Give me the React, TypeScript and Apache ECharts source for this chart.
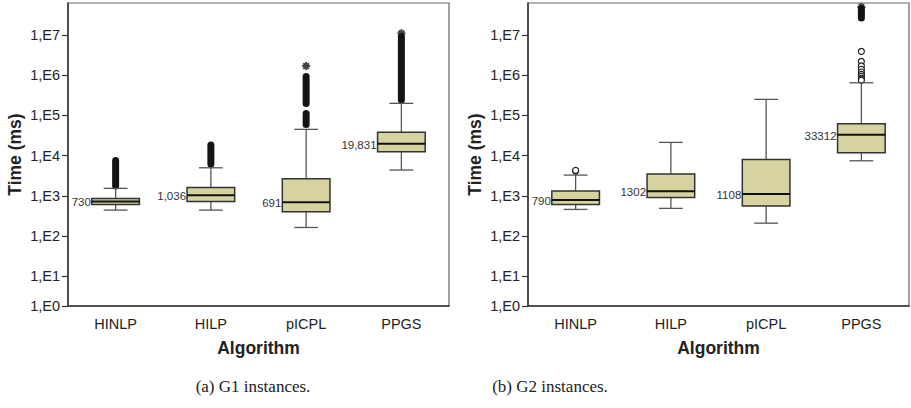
import React, { useEffect, useRef } from "react";
import * as echarts from "echarts";

const categories = ["HINLP", "HILP", "pICPL", "PPGS"];
const tickExponents = [1, 2, 3, 4, 5, 6, 7];
const axisMinValue = 1.83; // bottom of the axis, labelled 1,E0
const axisMaxValue = 6.25e7;

// [lower whisker, Q1, median, Q3, upper whisker] in ms
const g1Boxes = [
  [444, 615, 730, 867, 1540],
  [444, 730, 1036, 1625, 5000],
  [164, 402, 691, 2660, 45100],
  [4390, 12500, 19831, 38000, 200000],
];
const g1MedianLabels = ["730", "1,036", "691", "19,831"];
// dense outlier columns: [category, low, high]
const g1OutlierRanges = [
  [0, 1760, 7600],
  [1, 6200, 18400],
  [2, 59600, 112000],
  [2, 198000, 929000],
  [3, 242000, 9.2e6],
];
const g1Extremes = [
  [2, 1.69e6],
  [3, 1.1e7],
];

const g2Boxes = [
  [461, 615, 790, 1315, 3290],
  [489, 918, 1302, 3480, 21400],
  [210, 557, 1108, 8090, 251000],
  [7460, 11800, 33312, 62200, 650000],
];
const g2MedianLabels = ["790", "1302", "1108", "33312"];
const g2OutlierRanges = [[3, 2.65e7, 4.56e7]];
const g2Outliers = [
  [0, 4150],
  [0, 4300],
  [3, 3.9e6],
  [3, 2.2e6],
  [3, 1.7e6],
  [3, 1.4e6],
  [3, 1.2e6],
  [3, 1.05e6],
  [3, 9.5e5],
  [3, 8.5e5],
  [3, 8.0e5],
  [3, 7.5e5],
];
const g2Extremes = [[3, 5.0e7]];

const captions = ["(a) G1 instances.", "(b) G2 instances."];

const lg = Math.log10;
const FONT = '"Liberation Sans", Arial, sans-serif';

function boxSeries(boxes: number[][], labels: string[], idx: number) {
  return {
    type: "custom",
    xAxisIndex: idx,
    yAxisIndex: idx,
    z: 5,
    data: boxes.map((b, i) => [i, ...b.map(lg)]),
    renderItem: (params: any, api: any) => {
      const x = api.value(0);
      const pMin = api.coord([x, api.value(1)]);
      const pQ1 = api.coord([x, api.value(2)]);
      const pMed = api.coord([x, api.value(3)]);
      const pQ3 = api.coord([x, api.value(4)]);
      const pMax = api.coord([x, api.value(5)]);
      const band = api.size([1, 0])[0];
      const bw = band * 0.5;
      const cw = bw * 0.5;
      const cx = pMin[0];
      const wStyle = { stroke: "#555", lineWidth: 1.3 };
      return {
        type: "group",
        children: [
          { type: "line", shape: { x1: cx, y1: pMax[1], x2: cx, y2: pQ3[1] }, style: wStyle },
          { type: "line", shape: { x1: cx, y1: pQ1[1], x2: cx, y2: pMin[1] }, style: wStyle },
          { type: "line", shape: { x1: cx - cw / 2, y1: pMax[1], x2: cx + cw / 2, y2: pMax[1] }, style: wStyle },
          { type: "line", shape: { x1: cx - cw / 2, y1: pMin[1], x2: cx + cw / 2, y2: pMin[1] }, style: wStyle },
          {
            type: "rect",
            shape: { x: cx - bw / 2, y: pQ3[1], width: bw, height: pQ1[1] - pQ3[1] },
            style: { fill: "#d7d3a0", stroke: "#333", lineWidth: 1.5 },
          },
          {
            type: "line",
            shape: { x1: cx - bw / 2, y1: pMed[1], x2: cx + bw / 2, y2: pMed[1] },
            style: { stroke: "#111", lineWidth: 2 },
          },
          {
            type: "text",
            style: {
              text: labels[params.dataIndex],
              x: cx - bw / 2 - 1,
              y: pMed[1] + 1,
              align: "right",
              verticalAlign: "middle",
              textAlign: "right",
              textVerticalAlign: "middle",
              fill: "#333",
              font: `11.5px ${FONT}`,
            },
          },
        ],
      };
    },
  };
}

function rangeSeries(ranges: number[][], idx: number) {
  return {
    type: "custom",
    xAxisIndex: idx,
    yAxisIndex: idx,
    z: 3,
    data: ranges.map((r) => [r[0], lg(r[1]), lg(r[2])]),
    renderItem: (_p: any, api: any) => {
      const x = api.value(0);
      const a = api.coord([x, api.value(1)]);
      const b = api.coord([x, api.value(2)]);
      return {
        type: "line",
        shape: { x1: a[0], y1: a[1], x2: b[0], y2: b[1] },
        style: { stroke: "#141414", lineWidth: 7, lineCap: "round" },
      };
    },
  };
}

function starSeries(pts: number[][], idx: number) {
  return {
    type: "scatter",
    xAxisIndex: idx,
    yAxisIndex: idx,
    z: 4,
    symbol: "path://M5,0L5,10M0,5L10,5M1.5,1.5L8.5,8.5M8.5,1.5L1.5,8.5",
    symbolSize: 8,
    itemStyle: { color: "none", borderColor: "#141414", borderWidth: 2 },
    data: pts.map((p) => [p[0], lg(p[1])]),
  };
}

function circleSeries(pts: number[][], idx: number) {
  return {
    type: "scatter",
    xAxisIndex: idx,
    yAxisIndex: idx,
    z: 4,
    symbol: "circle",
    symbolSize: 6,
    itemStyle: { color: "#fff", borderColor: "#222", borderWidth: 1.2, opacity: 1 },
    data: pts.map((p) => [p[0], lg(p[1])]),
  };
}

const yTicks = [lg(axisMinValue), ...tickExponents];

function xAxis(idx: number) {
  return {
    type: "category",
    gridIndex: idx,
    data: categories,
    boundaryGap: true,
    axisLine: { lineStyle: { color: "#333", width: 1.5 } },
    axisTick: { alignWithLabel: true, length: 6, lineStyle: { color: "#333", width: 1.2 } },
    axisLabel: { color: "#222", fontSize: 14.5, fontFamily: FONT, margin: 10 },
    name: "Algorithm",
    nameLocation: "middle",
    nameGap: 33,
    nameTextStyle: { color: "#222", fontSize: 17.5, fontWeight: "bold", fontFamily: FONT },
    splitLine: { show: false },
  };
}

function yAxis(idx: number) {
  return {
    type: "value",
    gridIndex: idx,
    min: lg(axisMinValue),
    max: lg(axisMaxValue),
    axisLine: { show: true, lineStyle: { color: "#333", width: 1.5 } },
    axisTick: { show: true, length: 6, customValues: yTicks, lineStyle: { color: "#333", width: 1.2 } },
    axisLabel: {
      customValues: yTicks,
      formatter: (v: number) => "1,E" + Math.round(v),
      color: "#222",
      fontSize: 14.5,
      fontFamily: FONT,
      margin: 8,
    },
    splitLine: { show: false },
    name: "Time (ms)",
    nameLocation: "middle",
    nameRotate: 90,
    nameGap: 44,
    nameTextStyle: { color: "#222", fontSize: 17.5, fontWeight: "bold", fontFamily: FONT },
  };
}

export default function App() {
  const ref = useRef<HTMLDivElement>(null);
  useEffect(() => {
    if (!ref.current) return;
    const chart = echarts.init(ref.current, undefined, { renderer: "svg" });
    chart.setOption({
      animation: false,
      backgroundColor: "#fff",
      grid: [
        { left: 68, top: 3, width: 381, height: 303, show: true, borderColor: "#666", borderWidth: 1.2 },
        { left: 528, top: 3, width: 381, height: 303, show: true, borderColor: "#666", borderWidth: 1.2 },
      ],
      xAxis: [xAxis(0), xAxis(1)],
      yAxis: [yAxis(0), yAxis(1)],
      series: [
        rangeSeries(g1OutlierRanges, 0),
        starSeries(g1Extremes, 0),
        boxSeries(g1Boxes, g1MedianLabels, 0),
        rangeSeries(g2OutlierRanges, 1),
        starSeries(g2Extremes, 1),
        circleSeries(g2Outliers, 1),
        boxSeries(g2Boxes, g2MedianLabels, 1),
      ],
      graphic: [
        {
          type: "text",
          x: 253,
          y: 386,
          style: {
            text: captions[0],
            fill: "#222",
            font: '17px "Liberation Serif", serif',
            align: "center",
            verticalAlign: "middle",
            textAlign: "center",
            textVerticalAlign: "middle",
          },
        },
        {
          type: "text",
          x: 550,
          y: 386,
          style: {
            text: captions[1],
            fill: "#222",
            font: '17px "Liberation Serif", serif',
            align: "center",
            verticalAlign: "middle",
            textAlign: "center",
            textVerticalAlign: "middle",
          },
        },
      ],
    });
    return () => chart.dispose();
  }, []);
  return (
    <div
      ref={ref}
      style={{ position: "absolute", left: 0, top: 0, width: 911, height: 408, background: "#fff" }}
    />
  );
}
